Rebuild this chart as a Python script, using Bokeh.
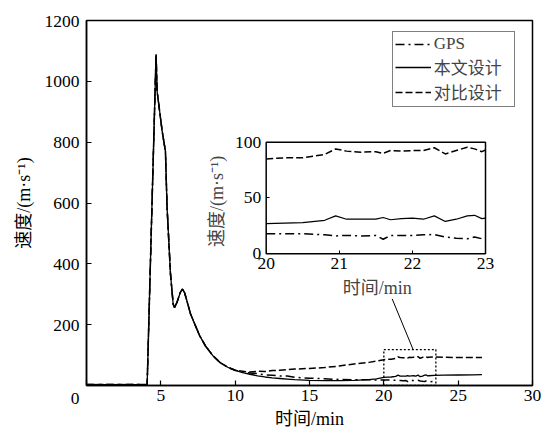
import numpy as np
from bokeh.plotting import figure
from bokeh.models import Range1d, LinearAxis, FixedTicker, Label, Legend, LegendItem
from bokeh.embed import file_html
from bokeh.resources import INLINE

# ---------------- data ----------------
time_min = [0, 4.08, 4.4, 4.68, 4.75, 5.09, 5.31, 5.42, 5.65, 5.83, 5.92, 6.1, 6.3, 6.45,
            6.6, 6.8, 7.0, 7.3, 7.6, 8.0, 8.5, 9.0, 9.5, 10.0,
            10.5, 11.0, 11.5, 12.0, 12.5, 13.0, 13.5, 14.0, 15.0, 16.0, 17.0, 18.0, 19.0, 19.5,
            20.0, 20.25, 20.5, 20.8, 20.95, 21.1, 21.3, 21.5, 21.6, 21.7, 21.85, 22.0, 22.15,
            22.3, 22.45, 22.6, 22.75, 22.85, 22.95, 23.0, 23.4, 24.0, 25.0, 26.0, 26.6]

speed_gps = [3, 3, 585, 1088, 967, 836, 770, 585, 366, 268, 256, 275, 305, 317,
             305, 270, 235, 200, 165, 130, 98, 75, 60, 50,
             45, 41, 39, 35, 34, 31, 31, 27, 24, 22, 20, 19, 18.5, 18,
             18, 18, 18, 17, 16, 16.5, 16, 16.4, 13, 16.4, 16.5, 16.4, 17,
             17.3, 15, 14, 13.4, 15, 13.5, 12.5, 13, np.nan, np.nan, np.nan, np.nan]

speed_this = [3, 3, 585, 1088, 967, 836, 770, 585, 366, 268, 256, 275, 305, 317,
              305, 270, 235, 200, 165, 130, 98, 75, 60, 50,
              42, 37, 32, 28, 25, 23, 21, 19, 17, 16, 16, 17, 19, 22,
              27, 27.5, 28, 30, 34, 31, 31, 31, 32.5, 30.5, 31.5, 32, 31,
              34, 29, 31, 34, 34.5, 31.5, 32, 33, 34, 34.5, 35, 36]

speed_cmp = [3, 3, 585, 1088, 967, 836, 770, 585, 366, 268, 256, 275, 305, 317,
             305, 270, 235, 200, 165, 130, 98, 75, 60, 50,
             47, 44, 47, 46, 49, 50, 52, 54, 56, 59, 64, 71, 76, 80,
             85, 86, 86, 89, 94, 92, 91, 91.5, 90, 92.5, 92, 92.5, 92.5,
             95, 89.5, 92.5, 95.5, 94, 91.5, 93, 94, 93, 92, 92, 92]

series_names = ["GPS", "本文设计", "对比设计"]
x_ticks = [0, 5, 10, 15, 20, 25, 30]
y_ticks = [0, 200, 400, 600, 800, 1000, 1200]
inset_x_ticks = [20, 21, 22, 23]
inset_y_ticks = [0, 50, 100]
inset_window = (20, 23, 0, 100)          # inset x/y limits
zoom_box = (20, 23.5, 0, 118)             # dotted box on main plot
connector = ([20.56, 21.97], [285, 118])  # line from inset label to box

# ---------------- styles ----------------
FONT = "Liberation Serif, Noto Sans CJK SC"
TICK_SIZE = "17.5px"
LABEL_SIZE = "18px"
DASH_GPS = "9 4 2 4"
DASH_CMP = "7 3"

p = figure(width=545, height=432, x_range=Range1d(0, 30), y_range=Range1d(0, 1200),
           output_backend="svg", toolbar_location=None,
           min_border_left=86, min_border_right=13, min_border_top=20, min_border_bottom=47)
p.xgrid.visible = False
p.ygrid.visible = False
p.outline_line_color = "black"
p.outline_line_width = 1.5
p.background_fill_color = "white"
p.border_fill_color = "white"

for ax in (p.xaxis[0], p.yaxis[0]):
    ax.axis_line_width = 1.5
    ax.axis_line_color = "black"
    ax.major_tick_in = 5
    ax.major_tick_out = 0
    ax.major_tick_line_width = 1.2
    ax.minor_tick_line_color = None
    ax.major_label_text_font = FONT
    ax.major_label_text_font_size = TICK_SIZE
    ax.major_label_text_color = "black"
    ax.axis_label_text_font = FONT
    ax.axis_label_text_font_size = LABEL_SIZE
    ax.axis_label_text_font_style = "normal"
    ax.axis_label_text_color = "black"
p.xaxis.ticker = FixedTicker(ticks=x_ticks)
p.yaxis.ticker = FixedTicker(ticks=y_ticks)
p.xaxis.major_label_overrides = {0: ""}
p.yaxis.major_label_overrides = {0: "\n0"}
p.xaxis.major_label_standoff = 4
p.yaxis.major_label_standoff = 7
p.xaxis.axis_label = "时间/min"
p.yaxis.axis_label = "速度/(m·s⁻¹)"
p.xaxis.axis_label_standoff = 5
p.yaxis.axis_label_standoff = 8

# main lines
r_this = p.line(time_min, speed_this, line_color="black", line_width=1.3)
r_cmp = p.line(time_min, speed_cmp, line_color="black", line_width=1.5, line_dash=DASH_CMP)
r_gps = p.line(time_min, speed_gps, line_color="black", line_width=1.5, line_dash=DASH_GPS)

# zoom box + connector
p.quad(left=[zoom_box[0]], right=[zoom_box[1]], bottom=[zoom_box[2]], top=[zoom_box[3]],
       fill_color=None, line_color="black", line_width=1.3, line_dash="2 2")
p.line(connector[0], connector[1], line_color="black", line_width=1)

# ---------------- inset via extra ranges ----------------
inset_box_main = (12.087, 26.839, 433.0, 799.9)  # where inset sits, in main data units
ix0, ix1, iy0, iy1 = inset_window
bx0, bx1, by0, by1 = inset_box_main
sx = (ix1 - ix0) / (bx1 - bx0)
sy = (iy1 - iy0) / (by1 - by0)
p.extra_x_ranges = {"ix": Range1d(ix0 + (0 - bx0) * sx, ix0 + (30 - bx0) * sx)}
p.extra_y_ranges = {"iy": Range1d(iy0 + (0 - by0) * sy, iy0 + (1200 - by0) * sy)}

t = np.array(time_min)
mask = (t >= ix0) & (t <= ix1)
p.quad(left=[ix0], right=[ix1], bottom=[iy0], top=[iy1], x_range_name="ix", y_range_name="iy",
       fill_color="white", line_color="black", line_width=1.5)
p.line(t[mask], np.array(speed_this)[mask], x_range_name="ix", y_range_name="iy",
       line_color="black", line_width=1.2)
p.line(t[mask], np.array(speed_cmp)[mask], x_range_name="ix", y_range_name="iy",
       line_color="black", line_width=1.5, line_dash=DASH_CMP)
p.line(t[mask], np.array(speed_gps)[mask], x_range_name="ix", y_range_name="iy",
       line_color="black", line_width=1.5, line_dash=DASH_GPS)

iax_x = LinearAxis(x_range_name="ix", y_range_name="iy", fixed_location=iy0,
                   ticker=FixedTicker(ticks=inset_x_ticks))
iax_y = LinearAxis(x_range_name="ix", y_range_name="iy", fixed_location=ix0,
                   ticker=FixedTicker(ticks=inset_y_ticks))
for ax in (iax_x, iax_y):
    ax.axis_line_color = None
    ax.major_tick_in = 3
    ax.major_tick_out = 0
    ax.minor_tick_line_color = None
    ax.major_label_text_font = FONT
    ax.major_label_text_font_size = TICK_SIZE
    ax.major_label_text_color = "black"
iax_x.major_label_standoff = 4
iax_y.major_label_standoff = 5
p.add_layout(iax_x, "below")
p.add_layout(iax_y, "left")

p.add_layout(Label(x=21.52, y=-31, x_range_name="ix", y_range_name="iy", text="时间/min",
                   text_font=FONT, text_font_size=LABEL_SIZE,
                   text_align="center", text_baseline="middle"))
p.add_layout(Label(x=19.33, y=47, x_range_name="ix", y_range_name="iy", text="速度/(m·s⁻¹)",
                   text_font=FONT, text_font_size=LABEL_SIZE, angle=np.pi / 2,
                   text_align="center", text_baseline="middle"))

# ---------------- legend ----------------
legend = Legend(items=[LegendItem(label=series_names[0], renderers=[r_gps]),
                       LegendItem(label=series_names[1], renderers=[r_this]),
                       LegendItem(label=series_names[2], renderers=[r_cmp])],
                location=(305.7, 278), margin=0, padding=2, spacing=0,
                glyph_width=36, glyph_height=20, label_height=20, label_width=78,
                label_standoff=3, border_line_color="black", border_line_width=1.5,
                background_fill_alpha=1, label_text_font=FONT, label_text_font_size="17px")
p.add_layout(legend)

open("out.html", "w").write(file_html(p, INLINE))
